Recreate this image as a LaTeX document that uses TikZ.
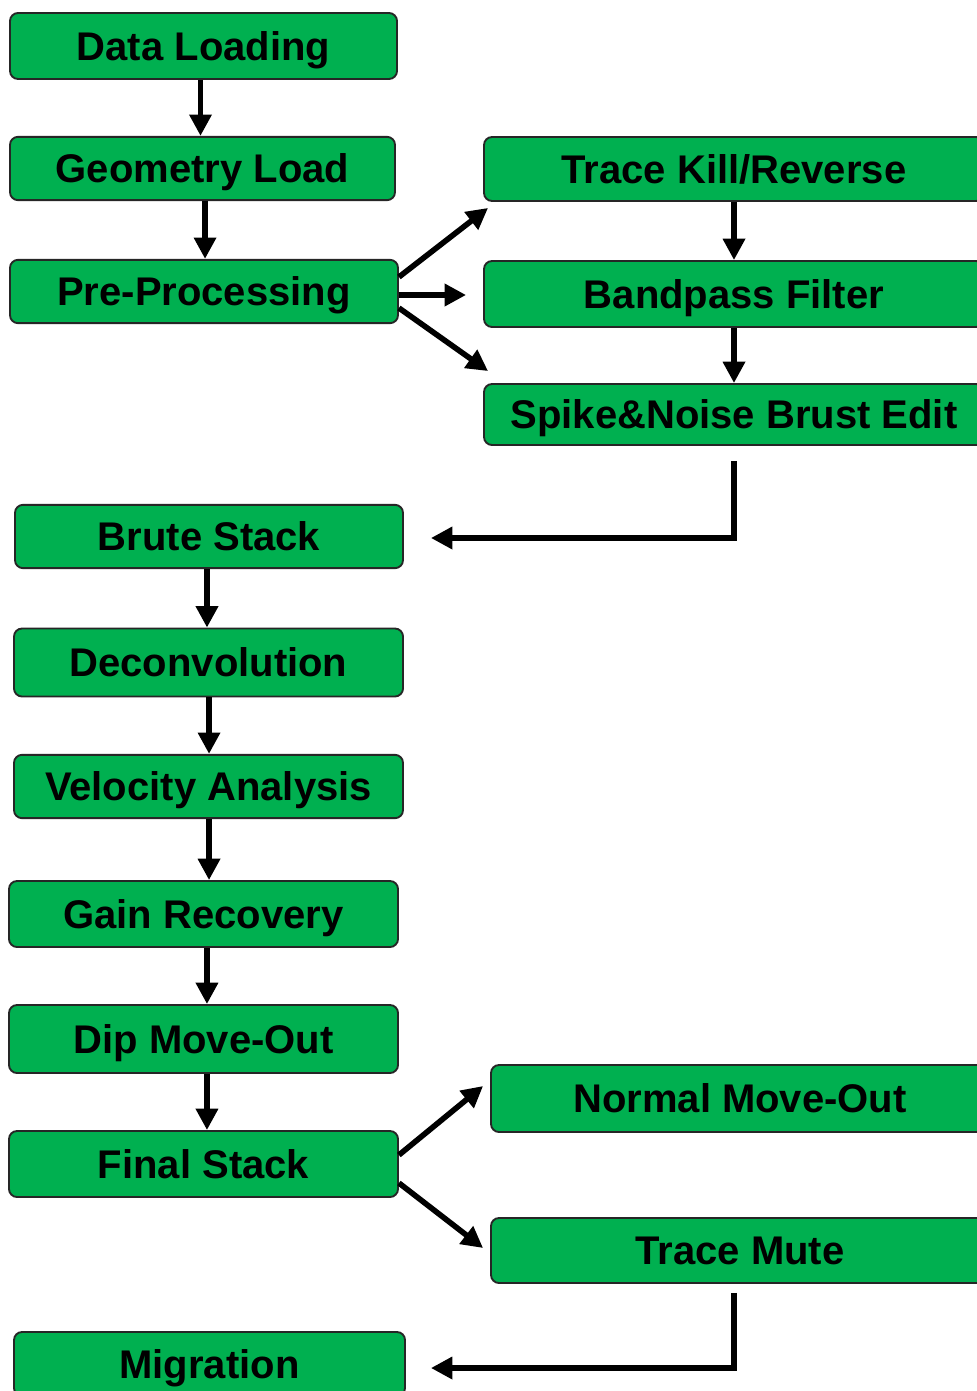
\documentclass[tikz,border=0pt]{standalone}
\usepackage{fontspec}
\setmainfont{Liberation Sans}
\usetikzlibrary{calc,arrows.meta}
\definecolor{boxgreen}{HTML}{00B050}
\tikzset{
  box/.style={draw=black!85, line width=1.4pt, fill=boxgreen, rounded corners=6pt,
    inner sep=0pt, text height=21.5pt, text depth=0pt,
    font=\fontsize{30}{36}\selectfont\bfseries},
  arr/.style={line width=4.2pt, -{Triangle[length=16pt,width=16pt]}}
}
\begin{document}
\begin{tikzpicture}[x=0.75pt,y=-0.75pt]
\useasboundingbox (0,0) rectangle (977,1391);
\clip (0,0) rectangle (977,1391);
\fill[white] (0,0) rectangle (977,1391);
% left column
\node[box, minimum width=290.25pt, minimum height=49.5pt] (dl) at (203.5,46) {Data Loading};
\node[box, minimum width=288.75pt, minimum height=47.5pt] (gl) at (202.5,168.5) {Geometry Load};
\node[box, minimum width=291pt, minimum height=47.5pt] (pre) at (204,291.5) {Pre-Processing};
\node[box, minimum width=291pt, minimum height=47.5pt] (bs) at (209,536.5) {Brute Stack};
\node[box, minimum width=291.75pt, minimum height=51pt] (dec) at (208.5,662.5) {Deconvolution};
\node[box, minimum width=291.75pt, minimum height=47.5pt] (va) at (208.5,786.5) {Velocity Analysis};
\node[box, minimum width=291.75pt, minimum height=49.5pt] (gr) at (203.5,914) {Gain Recovery};
\node[box, minimum width=291.75pt, minimum height=51pt] (dmo) at (203.5,1039) {Dip Move-Out};
\node[box, minimum width=291.75pt, minimum height=49.5pt] (fs) at (203.5,1164) {Final Stack};
\node[box, minimum width=293.25pt, minimum height=48pt] (mig) at (209.5,1364) {Migration};
% right column
\node[box, minimum width=375pt, minimum height=48pt] (tk) at (734,169) {Trace Kill/Reverse};
\node[box, minimum width=375pt, minimum height=49.5pt] (bp) at (734,294) {Bandpass Filter};
\node[box, minimum width=375pt, minimum height=45.75pt] (sp) at (734,414.5) {Spike\&Noise Brust Edit};
\node[box, minimum width=373.5pt, minimum height=50.25pt] (nmo) at (740,1098.5) {Normal Move-Out};
\node[box, minimum width=373.5pt, minimum height=48.75pt] (tm) at (740,1250.5) {Trace Mute};
% vertical arrows
\draw[arr] ([xshift=-2.25pt]dl.south) -- ([xshift=-2.25pt]dl.south |- gl.north);
\draw[arr] ([xshift=1.9pt]gl.south) -- ([xshift=1.9pt]gl.south |- pre.north);
\draw[arr] ([xshift=-1.5pt]bs.south) -- ([xshift=-1.5pt]bs.south |- dec.north);
\draw[arr] ([xshift=0.4pt]dec.south) -- ([xshift=0.4pt]dec.south |- va.north);
\draw[arr] ([xshift=0.4pt]va.south) -- ([xshift=0.4pt]va.south |- gr.north);
\draw[arr] ([xshift=2.6pt]gr.south) -- ([xshift=2.6pt]gr.south |- dmo.north);
\draw[arr] ([xshift=2.6pt]dmo.south) -- ([xshift=2.6pt]dmo.south |- fs.north);
\draw[arr] (tk.south) -- (bp.north);
\draw[arr] (bp.south) -- (sp.north);
% branching arrows
\draw[arr] ($(pre.east)+(0,-14.5)$) -- ($(tk.south west)+(5,6)$);
\draw[arr] ($(pre.east)+(0,3.5)$) -- ($(bp.west)+(-17,1)$);
\draw[arr] ($(pre.east)+(0,16.5)$) -- ($(sp.north west)+(5,-12)$);
\draw[arr] ($(fs.east)+(0,-9)$) -- ($(nmo.west)+(-7,-12.5)$);
\draw[arr] ($(fs.east)+(0,19)$) -- ($(tm.west)+(-7,-2.5)$);
% return arrows
\draw[arr] ($(sp.south)+(0,15)$) |- ($(bs.east)+(27,1.5)$);
\draw[arr] ($(tm.south)+(-6,9)$) |- ($(mig.east)+(25,4)$);
\end{tikzpicture}
\end{document}
